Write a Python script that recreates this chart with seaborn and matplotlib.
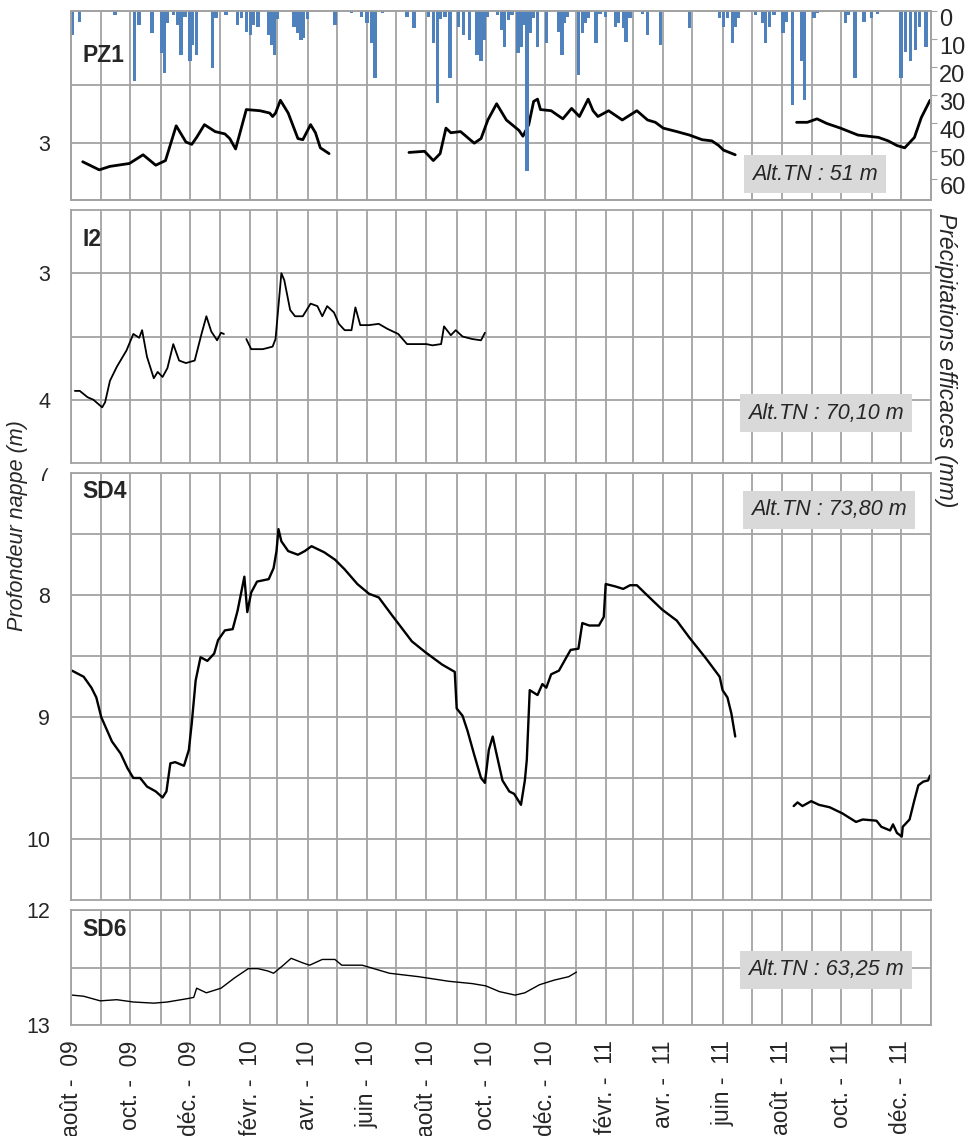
import numpy as np
import pandas as pd
import matplotlib.pyplot as plt
import matplotlib.dates as mdates
import matplotlib.transforms as mtransforms
import seaborn as sns
from matplotlib.patches import Rectangle

# --- data (depth in m, rain in mm) ---
pz1_dates = ["2009-08-13", "2009-08-30", "2009-09-10", "2009-09-30", "2009-10-14", "2009-10-27",
             "2009-11-06", "2009-11-17", "2009-11-27", "2009-12-03", "2009-12-08", "2009-12-16",
             "2009-12-27", "2010-01-06", "2010-01-11", "2010-01-17", "2010-01-28", "2010-02-11",
             "2010-02-21", "2010-02-24", "2010-02-27", "2010-03-04", "2010-03-12", "2010-03-22",
             "2010-03-27", "2010-04-04", "2010-04-09", "2010-04-14", "2010-04-23", None,
             "2010-07-14", "2010-07-30", "2010-08-08", "2010-08-15", "2010-08-21", "2010-08-26",
             "2010-09-05", "2010-09-19", "2010-09-26", "2010-10-03", "2010-10-12", "2010-10-22",
             "2010-11-04", "2010-11-08", "2010-11-14", "2010-11-19", "2010-11-23", "2010-11-26",
             "2010-12-07", "2010-12-19", "2010-12-28", "2011-01-05", "2011-01-14", "2011-01-19",
             "2011-01-24", "2011-02-04", "2011-02-18", "2011-03-05", "2011-03-16", "2011-03-24",
             "2011-04-01", "2011-04-15", "2011-04-28", "2011-05-11", "2011-05-21", "2011-05-28",
             "2011-06-02", "2011-06-14", None,
             "2011-08-16", "2011-08-27", "2011-09-06", "2011-09-16", "2011-09-30", "2011-10-18",
             "2011-11-08", "2011-11-18", "2011-11-27", "2011-12-05", "2011-12-15", "2011-12-22",
             "2011-12-31"]
pz1_depth = [3.16, 3.23, 3.20, 3.175, 3.10, 3.19,
             3.15, 2.85, 2.99, 3.01, 2.95, 2.84,
             2.90, 2.92, 2.96, 3.05, 2.71, 2.72,
             2.74, 2.77, 2.74, 2.63, 2.74, 2.96,
             2.97, 2.84, 2.91, 3.04, 3.09, None,
             3.08, 3.07, 3.15, 3.09, 2.87, 2.91,
             2.90, 3.00, 2.96, 2.80, 2.66, 2.80,
             2.89, 2.94, 2.84, 2.64, 2.62, 2.71,
             2.72, 2.79, 2.70, 2.77, 2.62, 2.72,
             2.77, 2.72, 2.80, 2.72, 2.80, 2.82,
             2.87, 2.90, 2.93, 2.97, 2.98, 3.02,
             3.06, 3.10, None,
             2.82, 2.82, 2.79, 2.83, 2.87, 2.93,
             2.95, 2.98, 3.02, 3.04, 2.95, 2.78,
             2.63]

i2_dates = ["2009-08-05", "2009-08-10", "2009-08-18", "2009-08-24", "2009-09-02", "2009-09-05",
            "2009-09-10", "2009-09-17", "2009-09-27", "2009-10-04", "2009-10-10", "2009-10-13",
            "2009-10-18", "2009-10-25", "2009-10-29", "2009-11-03", "2009-11-08", "2009-11-14",
            "2009-11-20", "2009-11-27", "2009-12-06", "2009-12-13", "2009-12-18", "2009-12-23",
            "2009-12-29", "2010-01-02", "2010-01-05", None,
            "2010-01-28", "2010-02-02", "2010-02-14", "2010-02-24", "2010-02-27", "2010-03-05",
            "2010-03-08", "2010-03-14", "2010-03-19", "2010-03-27", "2010-04-04", "2010-04-11",
            "2010-04-16", "2010-04-21", "2010-04-28", "2010-05-03", "2010-05-09", "2010-05-16",
            "2010-05-20", "2010-05-25", "2010-06-03", "2010-06-13", "2010-06-22", "2010-07-03",
            "2010-07-12", "2010-07-24", "2010-08-01", "2010-08-07", "2010-08-16", "2010-08-19",
            "2010-08-26", "2010-08-31", "2010-09-07", "2010-09-17", "2010-09-26", "2010-09-30"]
i2_depth = [3.93, 3.93, 3.98, 4.00, 4.06, 4.02,
            3.85, 3.74, 3.61, 3.48, 3.51, 3.45,
            3.66, 3.83, 3.78, 3.82, 3.75, 3.56,
            3.69, 3.71, 3.69, 3.48, 3.34, 3.46,
            3.53, 3.47, 3.48, None,
            3.52, 3.60, 3.60, 3.58, 3.52, 3.00,
            3.055, 3.29, 3.34, 3.34, 3.24, 3.26,
            3.34, 3.26, 3.31, 3.40, 3.45, 3.45,
            3.27, 3.41, 3.41, 3.40, 3.44, 3.48,
            3.56, 3.56, 3.56, 3.57, 3.56, 3.42,
            3.49, 3.45, 3.50, 3.52, 3.53, 3.47]

sd4_dates = ["2009-08-02", "2009-08-14", "2009-08-22", "2009-08-27", "2009-09-01", "2009-09-12",
             "2009-09-21", "2009-09-28", "2009-10-04", "2009-10-11", "2009-10-18", "2009-10-27",
             "2009-11-03", "2009-11-07", "2009-11-11", "2009-11-16", "2009-11-25", "2009-11-30",
             "2009-12-03", "2009-12-07", "2009-12-12", "2009-12-19", "2009-12-26", "2009-12-30",
             "2010-01-06", "2010-01-14", "2010-01-19", "2010-01-26", "2010-01-29", "2010-02-02",
             "2010-02-08", "2010-02-20", "2010-02-25", "2010-02-28", "2010-03-02", "2010-03-05",
             "2010-03-12", "2010-03-22", "2010-03-29", "2010-04-05", "2010-04-18", "2010-04-29",
             "2010-05-09", "2010-05-22", "2010-06-03", "2010-06-13", "2010-06-26", "2010-07-17",
             "2010-07-31", "2010-08-17", "2010-08-30", "2010-09-01", "2010-09-07", "2010-09-12",
             "2010-09-19", "2010-09-26", "2010-09-30", "2010-10-04", "2010-10-08", "2010-10-11",
             "2010-10-18", "2010-10-25", "2010-10-30", "2010-11-06", "2010-11-10", "2010-11-12",
             "2010-11-15", "2010-11-23", "2010-11-28", "2010-12-02", "2010-12-07", "2010-12-15",
             "2010-12-22", "2010-12-27", "2011-01-04", "2011-01-08", "2011-01-15", "2011-01-25",
             "2011-01-30", "2011-02-01", "2011-02-11", "2011-02-19", "2011-02-26", "2011-03-05",
             "2011-03-14", "2011-03-31", "2011-04-15", "2011-04-28", "2011-05-15", "2011-05-29",
             "2011-06-01", "2011-06-06", "2011-06-10", "2011-06-14", None,
             "2011-08-13", "2011-08-17", "2011-08-22", "2011-08-31", "2011-09-08", "2011-09-19",
             "2011-10-02", "2011-10-16", "2011-10-23", "2011-11-06", "2011-11-11", "2011-11-20",
             "2011-11-23", "2011-11-27", "2011-12-02", "2011-12-03", "2011-12-10", "2011-12-15",
             "2011-12-19", "2011-12-24", "2011-12-29", "2011-12-31"]
sd4_depth = [8.62, 8.67, 8.76, 8.84, 9.00, 9.20,
             9.30, 9.42, 9.50, 9.50, 9.57, 9.61,
             9.66, 9.61, 9.38, 9.37, 9.40, 9.27,
             9.05, 8.70, 8.51, 8.54, 8.48, 8.37,
             8.29, 8.28, 8.13, 7.85, 8.14, 7.98,
             7.89, 7.87, 7.78, 7.64, 7.46, 7.56,
             7.64, 7.67, 7.64, 7.60, 7.65, 7.71,
             7.79, 7.91, 7.99, 8.02, 8.16, 8.38,
             8.47, 8.57, 8.63, 8.93, 8.99, 9.11,
             9.31, 9.50, 9.54, 9.27, 9.16, 9.27,
             9.52, 9.61, 9.63, 9.72, 9.52, 9.35,
             8.78, 8.82, 8.73, 8.76, 8.65, 8.62,
             8.52, 8.45, 8.44, 8.23, 8.25, 8.25,
             8.18, 7.91, 7.93, 7.95, 7.92, 7.92,
             7.99, 8.12, 8.21, 8.35, 8.52, 8.67,
             8.78, 8.84, 8.97, 9.16, None,
             9.73, 9.70, 9.73, 9.69, 9.72, 9.74,
             9.79, 9.86, 9.84, 9.85, 9.90, 9.93,
             9.88, 9.95, 9.98, 9.90, 9.84, 9.68,
             9.56, 9.53, 9.52, 9.48]

sd6_dates = ["2009-08-02", "2009-08-14", "2009-08-31", "2009-09-17", "2009-10-04", "2009-10-25",
             "2009-11-08", "2009-11-29", "2009-12-05", "2009-12-08", "2009-12-18", "2010-01-02",
             "2010-01-16", "2010-01-30", "2010-02-09", "2010-02-19", "2010-02-25", "2010-03-07",
             "2010-03-15", "2010-03-27", "2010-04-03", "2010-04-16", "2010-04-29", "2010-05-06",
             "2010-05-27", "2010-06-24", "2010-07-24", "2010-08-24", "2010-09-17", "2010-10-01",
             "2010-10-15", "2010-10-31", "2010-11-10", "2010-11-25", "2010-12-10", "2010-12-25",
             "2011-01-02"]
sd6_depth = [12.74, 12.75, 12.79, 12.78, 12.80, 12.81,
             12.80, 12.77, 12.76, 12.68, 12.72, 12.68,
             12.59, 12.51, 12.51, 12.53, 12.55, 12.48,
             12.42, 12.46, 12.48, 12.43, 12.43, 12.48,
             12.48, 12.55, 12.58, 12.62, 12.64, 12.66,
             12.71, 12.74, 12.72, 12.65, 12.61, 12.58,
             12.54]

rain_dates = ["2009-08-02", "2009-08-10", "2009-09-15", "2009-10-05", "2009-10-10", "2009-10-23",
              "2009-11-02", "2009-11-05", "2009-11-08", "2009-11-14", "2009-11-19", "2009-11-22",
              "2009-11-26", "2009-12-01", "2009-12-04", "2009-12-08", "2009-12-24", "2009-12-28",
              "2010-01-07", "2010-01-19", "2010-01-23", "2010-01-28", "2010-02-01", "2010-02-04",
              "2010-02-09", "2010-02-20", "2010-02-23", "2010-02-26", "2010-03-01", "2010-03-18",
              "2010-03-22", "2010-03-25", "2010-03-28", "2010-04-01", "2010-04-29", "2010-05-16",
              "2010-05-26", "2010-06-01", "2010-06-06", "2010-06-09", "2010-06-17", "2010-07-12",
              "2010-07-19", "2010-08-03", "2010-08-08", "2010-08-12", "2010-08-15", "2010-08-20",
              "2010-08-25", "2010-09-03", "2010-09-08", "2010-09-14", "2010-09-22", "2010-09-26",
              "2010-09-29", "2010-10-02", "2010-10-13", "2010-10-17", "2010-10-20", "2010-10-24",
              "2010-10-28", "2010-11-03", "2010-11-06", "2010-11-09", "2010-11-12", "2010-11-16",
              "2010-11-19", "2010-11-23", "2010-12-02", "2010-12-15", "2010-12-18", "2010-12-21",
              "2010-12-24", "2011-01-04", "2011-01-08", "2011-01-11", "2011-01-14", "2011-01-22",
              "2011-01-26", "2011-02-01", "2011-02-11", "2011-02-14", "2011-02-19", "2011-02-22",
              "2011-02-26", "2011-03-11", "2011-03-16", "2011-03-29", "2011-04-28", "2011-05-29",
              "2011-06-02", "2011-06-06", "2011-06-11", "2011-06-14", "2011-06-17", "2011-07-05",
              "2011-07-12", "2011-07-15", "2011-07-19", "2011-07-24", "2011-08-02", "2011-08-05",
              "2011-08-12", "2011-08-21", "2011-08-24", "2011-09-03", "2011-09-06", "2011-10-05",
              "2011-10-08", "2011-10-15", "2011-10-24", "2011-11-01", "2011-11-07", "2011-12-01",
              "2011-12-06", "2011-12-11", "2011-12-16", "2011-12-20", "2011-12-27"]
rain_mm = [8.6, 3.8, 1.4, 25, 5, 8,
           15, 22, 4.4, 1.4, 5, 15.7,
           2, 18, 12, 15.7, 20.4, 2.6,
           1.4, 5, 2.6, 7.4, 8.6, 5,
           5.6, 8.6, 12, 15.7, 3, 5.6,
           8, 10.4, 9.8, 3, 5, 0.7,
           2, 4.4, 11.5, 24, 0.7, 2,
           6, 2, 11.5, 33, 3, 2,
           24, 5.6, 8.6, 10.4, 15.7, 18,
           10.4, 2, 1.4, 6.8, 12.8, 3.2,
           1.4, 15, 13, 5, 57, 8,
           2.6, 13, 11.5, 7.4, 15.7, 4.4,
           2, 23, 8, 4.4, 2.6, 11.5,
           1, 2, 5.6, 4.4, 6, 11,
           2.6, 1, 8.6, 12, 6, 2.6,
           5.6, 2.6, 11.5, 5.6, 2.6, 1.4,
           4.4, 11.5, 5.6, 1.4, 8, 3.8,
           33.6, 18, 31.8, 2.6, 0.7, 4.4,
           1.4, 24, 3.8, 2.6, 1, 24,
           14.6, 18, 14, 5.6, 12.8]

tick_dates = ["2009-08-01", "2009-10-01", "2009-12-01", "2010-02-01", "2010-04-01", "2010-06-01",
              "2010-08-01", "2010-10-01", "2010-12-01", "2011-02-01", "2011-04-01", "2011-06-01",
              "2011-08-01", "2011-10-01", "2011-12-01"]
tick_labels = ["août -  09", "oct. -  09", "déc. -  09", "févr. -  10", "avr. -  10", "juin -  10",
               "août -  10", "oct. -  10", "déc. -  10", "févr. -  11", "avr. -  11", "juin -  11",
               "août -  11", "oct. -  11", "déc. -  11"]

wells = ["PZ1", "I2", "SD4", "SD6"]
alt_tn = ["Alt.TN : 51 m", "Alt.TN : 70,10 m", "Alt.TN : 73,80 m", "Alt.TN : 63,25 m"]


def make_df(dates, depth):
    df = pd.DataFrame({"date": dates, "depth": depth})
    df["seg"] = df["date"].isna().cumsum()
    df = df.dropna()
    df["date"] = pd.to_datetime(df["date"])
    df["depth"] = df["depth"].astype(float)
    return df


sns.set_style("white")
plt.rcParams['font.family'] = ['Liberation Sans', 'DejaVu Sans']

W, H = 967, 1136
fig = plt.figure(figsize=(W / 100, H / 100), dpi=100)
grid_c = "#a3a3a3"
x0, x1 = pd.Timestamp("2009-08-01"), pd.Timestamp("2012-01-01")


def rect(top, bottom, left=71, right=931):
    return [left / W, 1 - bottom / H, (right - left) / W, (bottom - top) / H]


# panel setup: pixel box, y limits, y ticks, tick labels, line width
panels = [
    (pz1_dates, pz1_depth, (11, 200), (3.49, 1.86), [2.5, 3], ["", "3"], 2.0),
    (i2_dates, i2_depth, (210, 463), (4.5, 2.5), [3, 3.5, 4], ["3", "", "4"], 1.3),
    (sd4_dates, sd4_depth, (473, 900), (10.5, 7.0), [7, 7.5, 8, 8.5, 9, 9.5, 10],
     ["7", "", "8", "", "9", "", "10"], 1.7),
    (sd6_dates, sd6_depth, (910, 1025), (13, 12), [12, 12.5, 13], ["12", "", "13"], 1.0),
]
label_y = [56, 240, 491, 930]
box_xy = [(815, 174), (826, 413), (829, 510), (826, 970)]

axes = []
for i, (d, v, (top, bot), ylim, yt, ytl, lw) in enumerate(panels):
    ax = fig.add_axes(rect(top, bot))
    df = make_df(d, v)
    sns.lineplot(data=df, x="date", y="depth", units="seg", estimator=None,
                 color="black", lw=lw, ax=ax, legend=False)
    ax.set_xlim(x0, x1)
    ax.set_ylim(*ylim)
    ax.set_yticks(yt)
    ax.set_yticklabels(ytl)
    ax.set_xticks(pd.to_datetime(tick_dates))
    ax.xaxis.set_minor_locator(mdates.MonthLocator())
    ax.grid(True, which="both", axis="x", color=grid_c, lw=1.3)
    ax.grid(True, which="major", axis="y", color=grid_c, lw=1.3)
    ax.tick_params(which="both", length=0, labelsize=15.5, pad=15)
    ax.set_xlabel("")
    ax.set_ylabel("")
    for s in ax.spines.values():
        s.set_color(grid_c)
        s.set_linewidth(1.3)
    if i < 3:
        ax.tick_params(labelbottom=False)
    else:
        ax.set_xticklabels(tick_labels, rotation=90, ha="center", va="top")
        ax.tick_params(axis="x", pad=11, labelsize=16.5)
    fig.text(82 / W, 1 - label_y[i] / H, wells[i], fontsize=16.5, fontweight="bold",
             va="center", ha="left")
    bx, by = box_xy[i]
    fig.text(bx / W, 1 - by / H, alt_tn[i], fontsize=15.5, style="italic",
             ha="center", va="center",
             bbox=dict(boxstyle="square,pad=0.4", fc="#d9d9d9", ec="none"))
    axes.append(ax)

# effective precipitation bars on the PZ1 panel (inverted right axis)
axr = axes[0].twinx()
axr.bar(pd.to_datetime(rain_dates), rain_mm, width=3.5, color="#4f81bd", linewidth=0)
axr.set_xlim(x0, x1)
axr.set_ylim(67.5, 0)
axr.set_yticks(range(0, 70, 10))
axr.tick_params(axis="y", length=4, color=grid_c, labelsize=17, pad=2)
shift = mtransforms.ScaledTranslation(0, -5 / 72, fig.dpi_scale_trans)
for lab in axr.get_yticklabels():
    lab.set_transform(lab.get_transform() + shift)
for s in axr.spines.values():
    s.set_color(grid_c)
    s.set_linewidth(1.3)

fig.text(18 / W, 1 - 526 / H, "Profondeur nappe (m)", rotation=90, style="italic",
         fontsize=15.5, ha="center", va="center")
fig.text(946 / W, 1 - 360 / H, "Précipitations efficaces (mm)", rotation=270, style="italic",
         fontsize=16.5, ha="center", va="center")

# the "7" label is half hidden under the I2 frame in the original
fig.add_artist(Rectangle((32 / W, 1 - 467 / H), 32 / W, 12 / H, transform=fig.transFigure,
                         color="white", zorder=10))

fig.savefig("out.png", dpi=100)
